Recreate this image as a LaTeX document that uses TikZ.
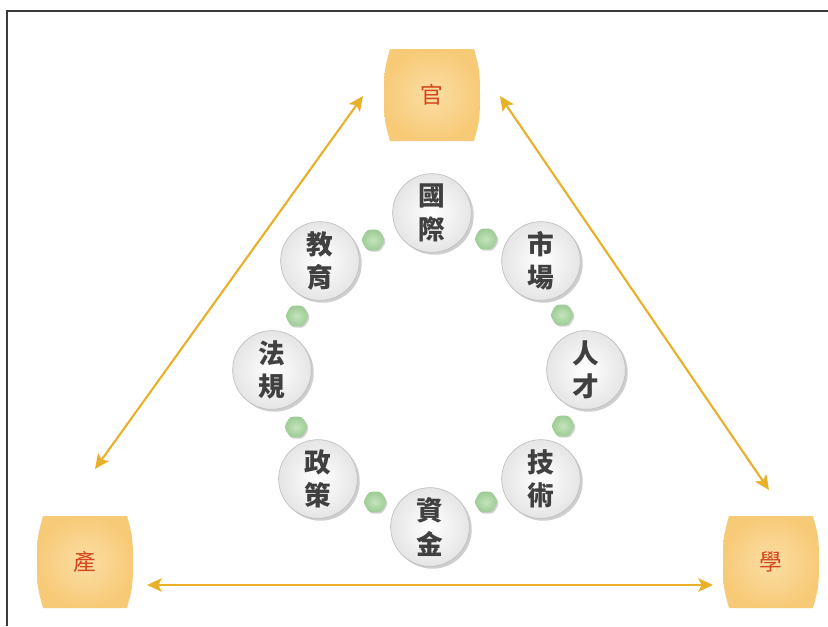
\documentclass[tikz,border=0pt]{standalone}
\usepackage{fontspec}
\newfontfamily\tcfont{Noto Sans CJK TC}
\usetikzlibrary{arrows.meta,shapes.geometric,shadows,calc}
\definecolor{arrowc}{HTML}{EAB02A}
\definecolor{barrelin}{HTML}{FCDEA4}
\definecolor{barrelout}{HTML}{F7CA78}
\definecolor{barreltxt}{HTML}{D4461C}
\definecolor{greenin}{HTML}{C4E4BC}
\definecolor{greenout}{HTML}{9CCB94}
\definecolor{frame}{HTML}{3A3A3A}
\tikzset{
  ringnode/.style={circle, minimum size=59pt, inner sep=0pt, draw=gray!50, line width=0.5pt,
    inner color=white, outer color=gray!20,
    drop shadow={shadow xshift=1.8pt, shadow yshift=-1.8pt, opacity=0.5, fill=gray!75},
    font=\tcfont\bfseries\fontsize{20pt}{25pt}\selectfont, text=black!75, align=center},
  gdot/.style={regular polygon, regular polygon sides=6, minimum size=18pt, inner sep=0pt,
    rounded corners=2.5pt, inner color=greenin, outer color=greenout, draw=none,
    drop shadow={shadow xshift=1pt, shadow yshift=-1pt, opacity=0.35}},
  barrel/.style={minimum width=72pt, minimum height=69pt, inner sep=0pt,
    font=\tcfont\fontsize{17pt}{20pt}\selectfont, text=barreltxt},
  barrelfill/.style={inner color=barrelin, outer color=barrelout},
  biarrow/.style={draw=arrowc, line width=1.6pt, {Stealth[length=11pt,width=10pt,inset=2.5pt]}-{Stealth[length=11pt,width=10pt,inset=2.5pt]}},
}
\begin{document}
\begin{tikzpicture}[x=0.75pt,y=-0.75pt]
\useasboundingbox (0,0) rectangle (828,626);
\fill[white] (0,0) rectangle (828,626);
% frame
\coordinate (fb) at (7,626);
\coordinate (fc) at (7,11);
\coordinate (fr) at (828,11);
\draw[frame, line width=1.6pt] (fb) -- (fc) -- (fr);

% barrels
\foreach \nm/\px/\py in {guan/432/95, chan/85/562, xue/771/562}{
  \coordinate (\nm c) at (\px,\py);
  \path[barrelfill]
    ($(\nm c)+(-42,-46)$) -- ($(\nm c)+(42,-46)$)
    .. controls +(5,18) and +(0,-25) .. ($(\nm c)+(48,0)$)
    .. controls +(0,25) and +(5,-18) .. ($(\nm c)+(42,46)$)
    -- ($(\nm c)+(-42,46)$)
    .. controls +(-5,-18) and +(0,25) .. ($(\nm c)+(-48,0)$)
    .. controls +(0,-25) and +(-5,18) .. ($(\nm c)+(-42,-46)$) -- cycle;
}
\node[barrel] (guan) at (guanc) {官};
\node[barrel] (chan) at (chanc) {產};
\node[barrel] (xue) at (xuec) {學};

% arrows
\coordinate (a1) at (95,469);
\coordinate (a2) at (363,96);
\coordinate (b1) at (500,96);
\coordinate (b2) at (769,490);
\coordinate (d1) at (147,585);
\coordinate (d2) at (713,585);
\draw[biarrow] (a1) -- (a2);
\draw[biarrow] (b1) -- (b2);
\draw[biarrow] (d1) -- (d2);

% green dots
\node[gdot] (g1) at (486,239) {};
\node[gdot] (g2) at (562,315) {};
\node[gdot] (g3) at (563,426) {};
\node[gdot] (g4) at (486,502) {};
\node[gdot] (g5) at (375,502) {};
\node[gdot] (g6) at (296,427) {};
\node[gdot] (g7) at (297,316) {};
\node[gdot] (g8) at (373,240) {};

% ring nodes
\node[ringnode] (guoji) at (432,213) {國\\際};
\node[ringnode] (shichang) at (541,261) {市\\場};
\node[ringnode] (rencai) at (586,370) {人\\才};
\node[ringnode] (jishu) at (541,479) {技\\術};
\node[ringnode] (zijin) at (430,527) {資\\金};
\node[ringnode] (zhengce) at (318,479) {政\\策};
\node[ringnode] (fagui) at (272,370) {法\\規};
\node[ringnode] (jiaoyu) at (320,261) {教\\育};
\end{tikzpicture}
\end{document}
